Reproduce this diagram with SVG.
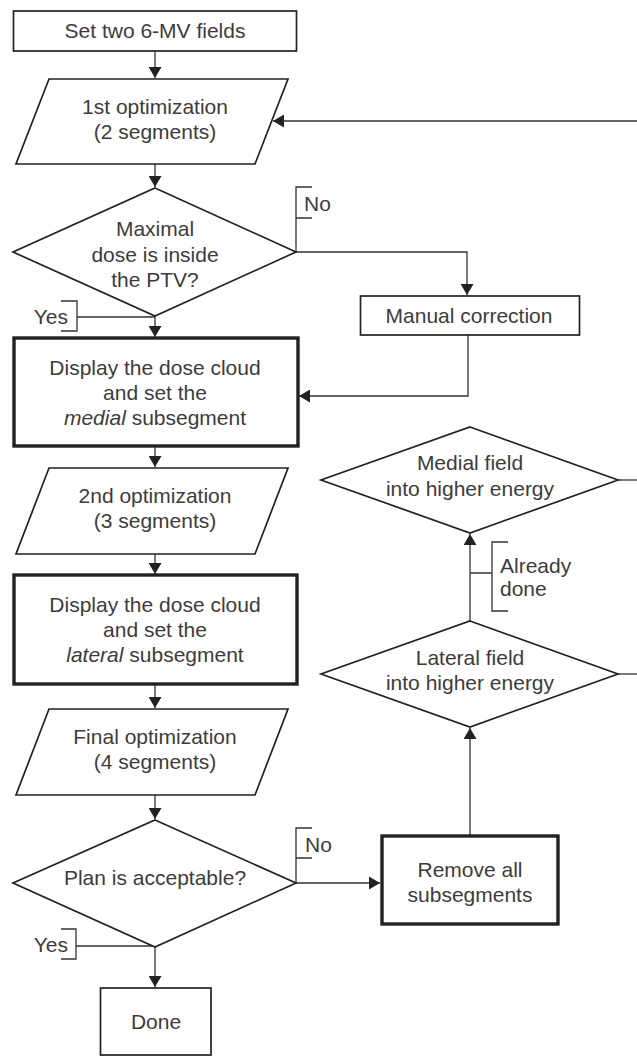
<svg xmlns="http://www.w3.org/2000/svg" width="637" height="1057" viewBox="0 0 637 1057">
<style>
.s{fill:#fff;stroke:#222;stroke-width:1.7}
.k{fill:#fff;stroke:#222;stroke-width:3.4}
.c{fill:none;stroke:#333;stroke-width:1.3}
text{font-family:"Liberation Sans",Arial,sans-serif;font-size:21px;fill:#3c3c3c}
.m{text-anchor:middle}
.e{text-anchor:end}
</style>
<defs>
<marker id="ah" markerUnits="userSpaceOnUse" markerWidth="12" markerHeight="13" refX="11" refY="6.5" orient="auto">
<path d="M0,0 L11,6.5 L0,13 Z" fill="#222"/>
</marker>
</defs>
<rect width="637" height="1057" fill="#fff"/>
<g id="connectors">
<path class="c" d="M155,51 V78" marker-end="url(#ah)"/>
<path class="c" d="M155,164 V187" marker-end="url(#ah)"/>
<path class="c" d="M155,316 V337" marker-end="url(#ah)"/>
<path class="c" d="M296,252 H467 V295" marker-end="url(#ah)"/>
<path class="c" d="M468,335 V396 H299" marker-end="url(#ah)"/>
<path class="c" d="M155,446 V467" marker-end="url(#ah)"/>
<path class="c" d="M155,554 V574" marker-end="url(#ah)"/>
<path class="c" d="M155,684 V708" marker-end="url(#ah)"/>
<path class="c" d="M155,795 V819" marker-end="url(#ah)"/>
<path class="c" d="M155,947 V987" marker-end="url(#ah)"/>
<path class="c" d="M296,883 H380" marker-end="url(#ah)"/>
<path class="c" d="M470,836 V728" marker-end="url(#ah)"/>
<path class="c" d="M470,621 V534" marker-end="url(#ah)"/>
<path class="c" d="M618,480 H637"/>
<path class="c" d="M618,674 H637"/>
<path class="c" d="M637,121 H273" marker-end="url(#ah)"/>
<path class="c" d="M312,187 H296 V218 H312 M296,218 V252"/>
<path class="c" d="M312,828 H296 V858 H312 M296,858 V883"/>
<path class="c" d="M61,301 H77 V331 H61 M77,317 H155"/>
<path class="c" d="M61,929 H76 V959 H61 M76,946 H155"/>
<path class="c" d="M508,542 H492 V611 H508 M470,573 H492"/>
</g>
<g id="start">
<rect class="s" x="13.5" y="11" width="283" height="40"/>
<text class="m" x="155" y="38">Set two 6-MV fields</text>
</g>
<g id="opt1">
<polygon class="s" points="49,79 288,79 255,164 16,164"/>
<text class="m" x="155" y="114">1st optimization</text>
<text class="m" x="155" y="139">(2 segments)</text>
</g>
<g id="dec1">
<polygon class="s" points="155,188 296,252 155,316 13,252"/>
<text class="m" x="155" y="236">Maximal</text>
<text class="m" x="155" y="262">dose is inside</text>
<text class="m" x="155" y="287">the PTV?</text>
</g>
<g id="labels1">
<text x="304" y="211">No</text>
<text class="e" x="68" y="324">Yes</text>
</g>
<g id="manual">
<rect class="s" x="360.5" y="296" width="219" height="39"/>
<text class="m" x="469" y="323">Manual correction</text>
</g>
<g id="display1">
<rect class="k" x="14" y="338" width="284" height="108"/>
<text class="m" x="155" y="375">Display the dose cloud</text>
<text class="m" x="155" y="400">and set the</text>
<text class="m" x="155" y="425"><tspan font-style="italic">medial</tspan> subsegment</text>
</g>
<g id="opt2">
<polygon class="s" points="49,468 288,468 255,554 16,554"/>
<text class="m" x="155" y="503">2nd optimization</text>
<text class="m" x="155" y="528">(3 segments)</text>
</g>
<g id="display2">
<rect class="k" x="14" y="575" width="283" height="109"/>
<text class="m" x="155" y="612">Display the dose cloud</text>
<text class="m" x="155" y="637">and set the</text>
<text class="m" x="155" y="662"><tspan font-style="italic">lateral</tspan> subsegment</text>
</g>
<g id="opt3">
<polygon class="s" points="49,709 288,709 255,795 16,795"/>
<text class="m" x="155" y="744">Final optimization</text>
<text class="m" x="155" y="769">(4 segments)</text>
</g>
<g id="dec2">
<polygon class="s" points="155,820 296,883 155,947 13,883"/>
<text class="m" x="155" y="885">Plan is acceptable?</text>
</g>
<g id="labels2">
<text x="305" y="852">No</text>
<text class="e" x="68" y="952">Yes</text>
</g>
<g id="done">
<rect class="s" x="100.5" y="988" width="110.5" height="67"/>
<text class="m" x="156" y="1029">Done</text>
</g>
<g id="remove">
<rect class="k" x="382" y="836" width="176" height="88"/>
<text class="m" x="470" y="877">Remove all</text>
<text class="m" x="470" y="902">subsegments</text>
</g>
<g id="lateral">
<polygon class="s" points="470,621 618,674 470,727 321,674"/>
<text class="m" x="470" y="665">Lateral field</text>
<text class="m" x="470" y="690">into higher energy</text>
</g>
<g id="medial">
<polygon class="s" points="470,427 618,480 470,533 321,480"/>
<text class="m" x="470" y="470">Medial field</text>
<text class="m" x="470" y="496">into higher energy</text>
</g>
<g id="already">
<text x="500" y="573">Already</text>
<text x="500" y="596">done</text>
</g>
</svg>
